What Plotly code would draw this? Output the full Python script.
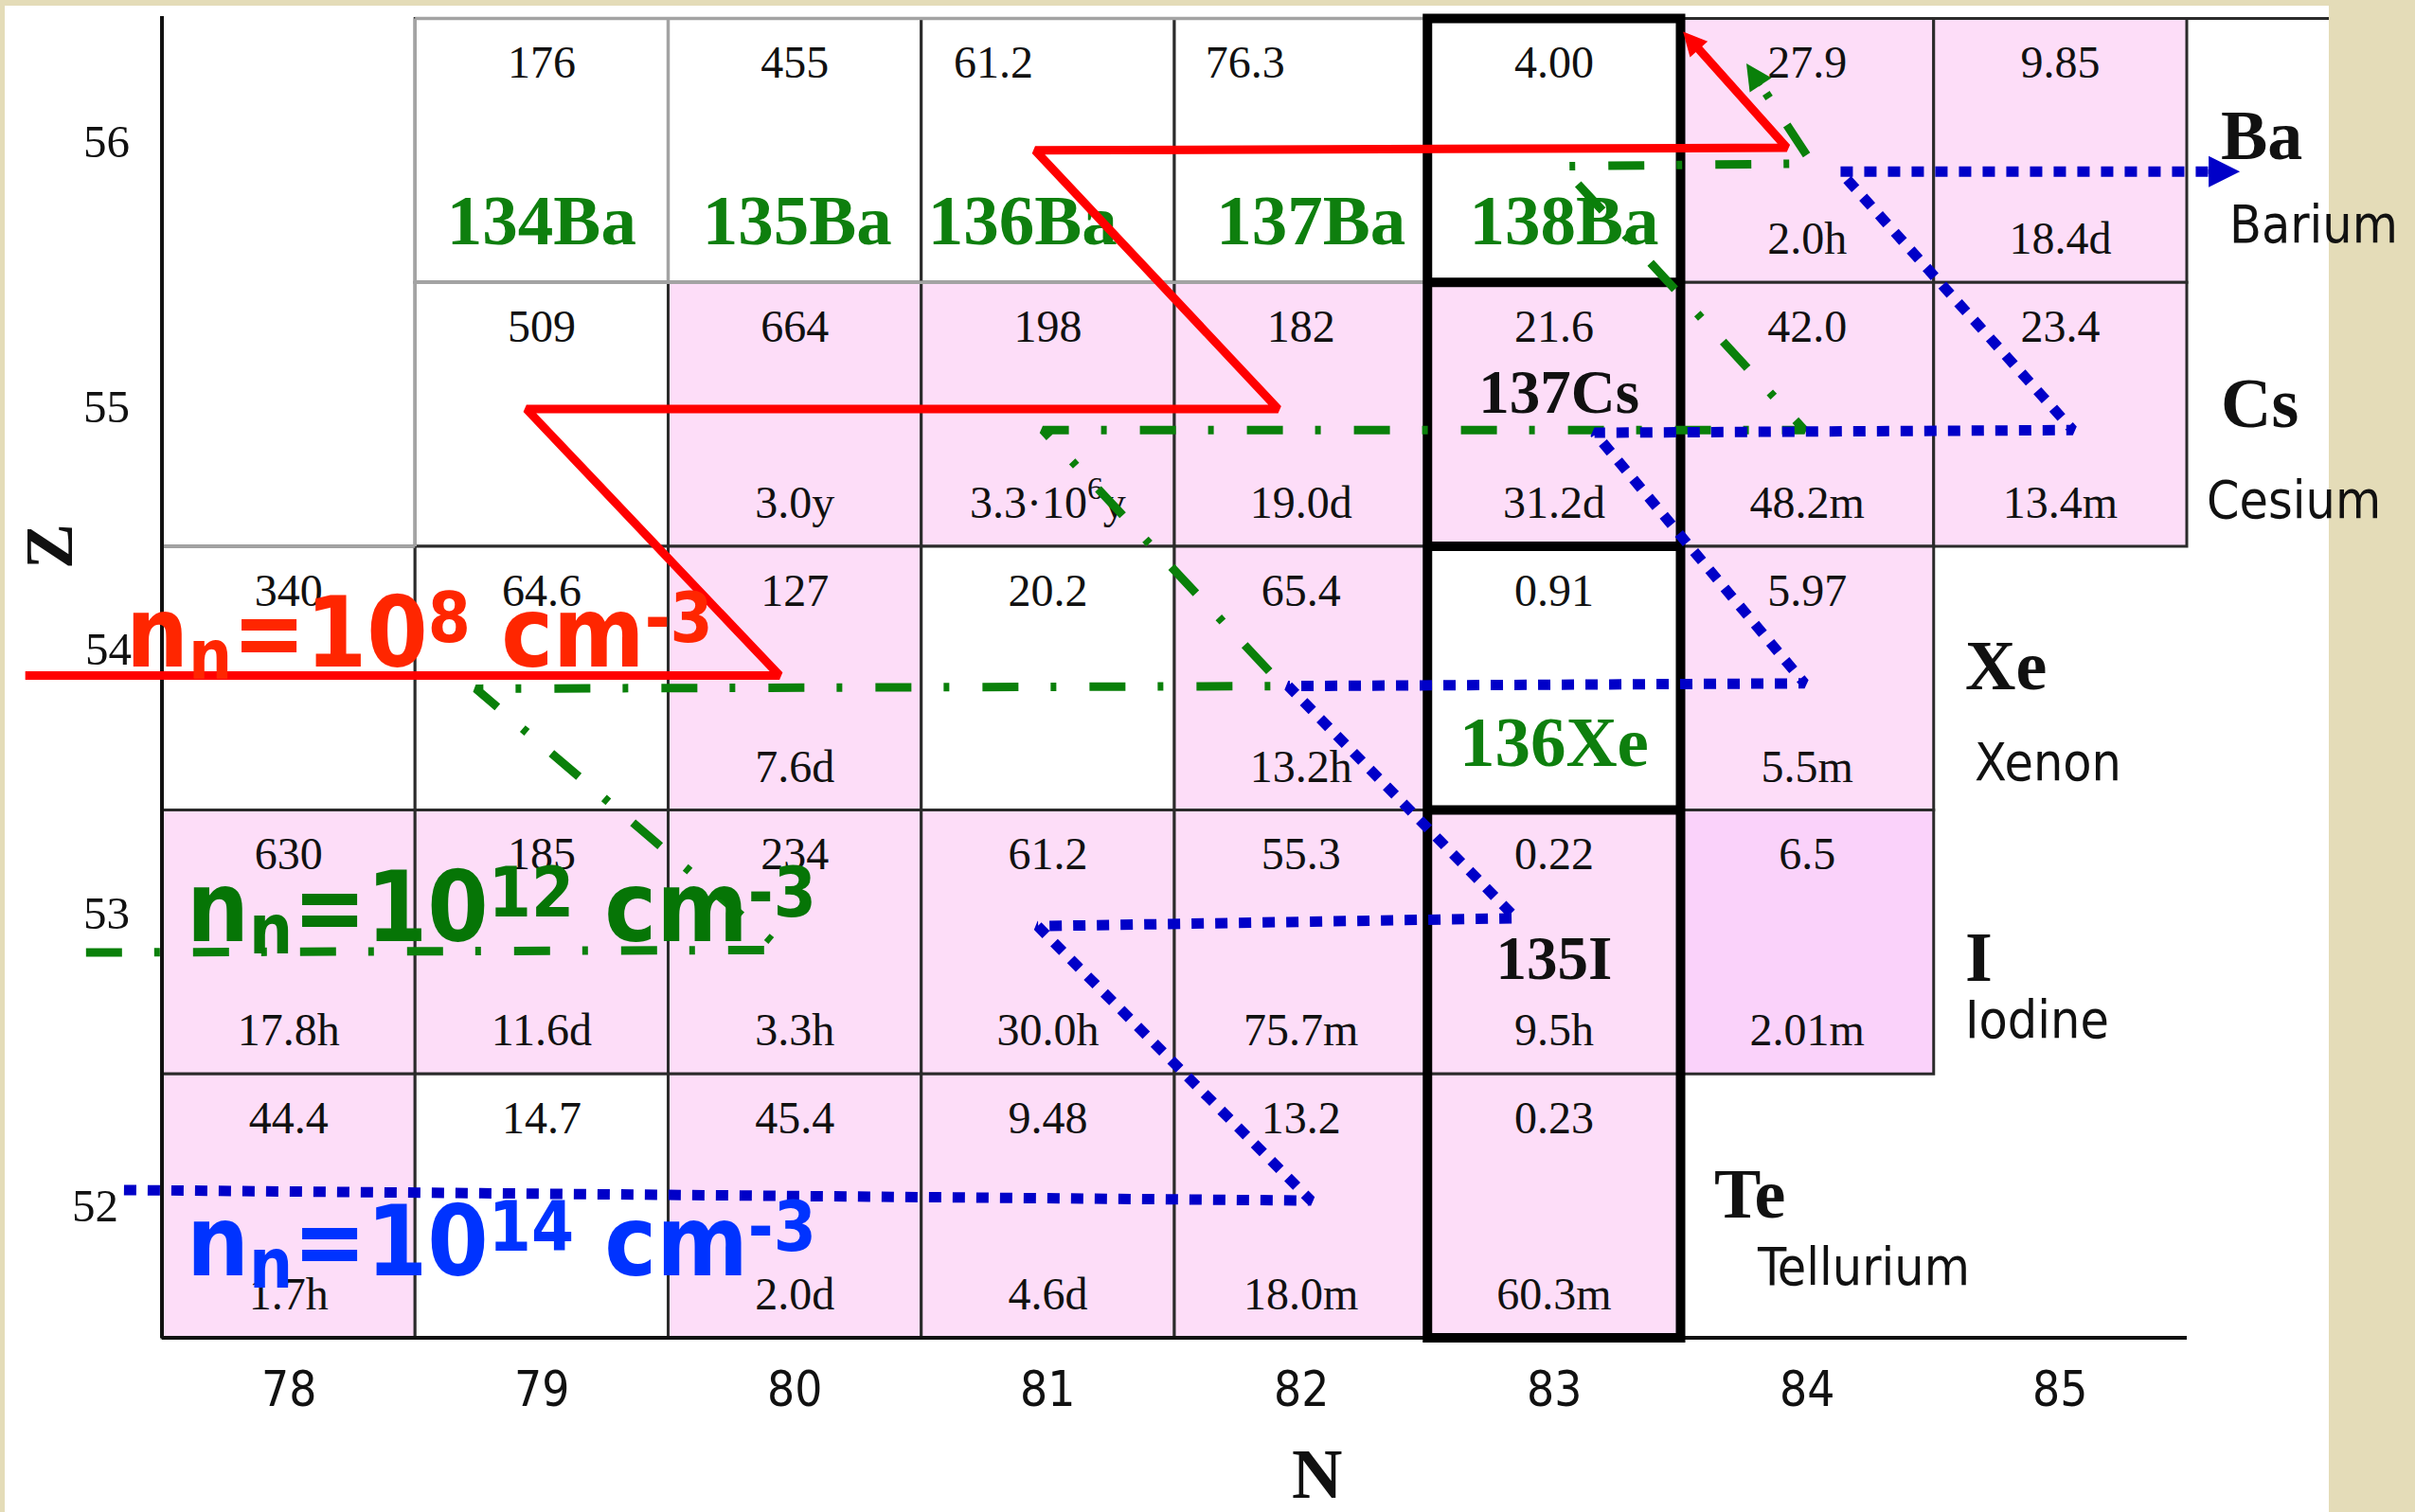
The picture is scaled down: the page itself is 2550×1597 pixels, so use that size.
import math
import plotly.graph_objects as go

# ---------------- data ----------------
N_TICKS = [78, 79, 80, 81, 82, 83, 84, 85]
Z_TICKS = [52, 53, 54, 55, 56]
ELEM_SYMBOLS = ["Te", "I", "Xe", "Cs", "Ba"]
ELEM_NAMES = ["Tellurium", "Iodine", "Xenon", "Cesium", "Barium"]

cell_N = [79, 80, 81, 82, 83, 84, 85,
          79, 80, 81, 82, 83, 84, 85,
          78, 79, 80, 81, 82, 83, 84,
          78, 79, 80, 81, 82, 83, 84,
          78, 79, 80, 81, 82, 83]
cell_Z = [56] * 7 + [55] * 7 + [54] * 7 + [53] * 7 + [52] * 6
cell_sigma = ["176", "455", "61.2", "76.3", "4.00", "27.9", "9.85",
              "509", "664", "198", "182", "21.6", "42.0", "23.4",
              "340", "64.6", "127", "20.2", "65.4", "0.91", "5.97",
              "630", "185", "234", "61.2", "55.3", "0.22", "6.5",
              "44.4", "14.7", "45.4", "9.48", "13.2", "0.23"]
cell_halflife = ["", "", "", "", "", "2.0h", "18.4d",
                 "", "3.0y", "3.3\u00b710<sup>6</sup>y", "19.0d", "31.2d", "48.2m", "13.4m",
                 "", "", "7.6d", "", "13.2h", "", "5.5m",
                 "17.8h", "11.6d", "3.3h", "30.0h", "75.7m", "9.5h", "2.01m",
                 "1.7h", "", "2.0d", "4.6d", "18.0m", "60.3m"]
cell_state = ["s", "s", "s", "s", "s", "r", "r",
              "s", "r", "r", "r", "r", "r", "r",
              "s", "s", "r", "s", "r", "s", "r",
              "r", "r", "r", "r", "r", "r", "r2",
              "r", "s", "r", "r", "r", "r"]

name_label = ["134Ba", "135Ba", "136Ba", "137Ba", "138Ba", "137Cs", "136Xe", "135I"]
name_N = [79, 80, 81, 82, 83, 83, 83, 83]
name_Z = [56, 56, 56, 56, 56, 55, 54, 53]
name_kind = ["g", "g", "g", "g", "g", "k", "g", "k"]

# neutron-capture paths (N, Z)
red_N = [76.96, 79.94, 78.94, 81.91, 80.95, 83.92, 83.51]
red_Z = [54.01, 54.01, 55.02, 55.02, 56.00, 56.01, 56.45]
green_N = [77.20, 79.95, 78.74, 81.93, 80.98, 83.99, 83.03, 84.02, 83.76]
green_Z = [52.96, 52.97, 53.96, 53.97, 54.94, 54.94, 55.94, 55.95, 56.33]
blue_N = [77.35, 82.04, 80.96, 82.85, 81.95, 83.99, 83.16, 85.05, 84.13, 85.71]
blue_Z = [52.06, 52.02, 53.06, 53.09, 53.97, 53.98, 54.93, 54.94, 55.92, 55.92]
flux_labels = ["n<sub>n</sub>=10<sup>8</sup> cm<sup>-3</sup>",
               "n<sub>n</sub>=10<sup>12</sup> cm<sup>-3</sup>",
               "n<sub>n</sub>=10<sup>14</sup> cm<sup>-3</sup>"]

# ---------------- geometry / style ----------------
W, H = 2550, 1597
X0, CW = 171.0, 267.25
Y0, CH = 19.5, 278.7


def n_of(px):
    return 77.5 + (px - X0) / CW


def z_of(py):
    return 56.5 - (py - Y0) / CH


def px_x(n):
    return X0 + (n - 77.5) * CW


def px_y(z):
    return Y0 + (56.5 - z) * CH


BEIGE = "#E4DCB8"
PINK = "#FDDDF8"
PINK2 = "#FAD2FA"
DARK = "#2b2b2b"
GRAY = "#a3a3a3"
SERIF = "Liberation Serif, Times New Roman, serif"
SANS = "DejaVu Sans Condensed, Liberation Sans, DejaVu Sans, sans-serif"
GREEN_TXT = "#0E7F0E"
fills = {"s": "white", "r": PINK, "r2": PINK2}

shapes = []
shapes.append(dict(type="rect", xref="paper", yref="paper", x0=5 / W, x1=2459 / W,
                   y0=0, y1=1 - 6 / H, fillcolor="white", line_width=0, layer="below"))
for n, z, st in zip(cell_N, cell_Z, cell_state):
    shapes.append(dict(type="rect", xref="x", yref="y", x0=n - 0.5, x1=n + 0.5,
                       y0=z - 0.5, y1=z + 0.5, fillcolor=fills[st],
                       line=dict(color=DARK, width=3), layer="below"))


def seg(x0, y0, x1, y1, color, width):
    shapes.append(dict(type="line", xref="x", yref="y", x0=x0, y0=y0, x1=x1, y1=y1,
                       line=dict(color=color, width=width), layer="below"))


# light grey borders in the upper-left part
seg(78.5, 56.5, 82.5, 56.5, GRAY, 3.5)
seg(78.5, 55.5, 82.5, 55.5, GRAY, 3.5)
seg(78.5, 54.5, 78.5, 56.5, GRAY, 3.5)
seg(79.5, 55.5, 79.5, 56.5, GRAY, 3.5)
seg(77.5, 54.5, 78.5, 54.5, GRAY, 3.5)
# top line extension
seg(85.5, 56.5, n_of(2459), 56.5, DARK, 3)
# axes
seg(77.5, 51.5, 77.5, z_of(17), "#111", 4)
seg(77.5, 51.5, 85.5, 51.5, "#111", 4)
# thick N=83 column
shapes.append(dict(type="rect", xref="x", yref="y", x0=82.5, x1=83.5, y0=51.5, y1=56.5,
                   line=dict(color="black", width=10), layer="below"))
for zz in (55.5, 54.5, 53.5):
    seg(82.5, zz, 83.5, zz, "black", 10)

fig = go.Figure()

# cell texts
sig_dx = {(81, 56): -0.215, (82, 56): -0.22}
fig.add_trace(go.Scatter(
    x=[n + sig_dx.get((n, z), 0) for n, z in zip(cell_N, cell_Z)],
    y=[z + 0.318 for z in cell_Z], text=cell_sigma, mode="text",
    textfont=dict(family=SERIF, size=48, color="#111"), hoverinfo="skip", showlegend=False))
hl = [(n, z, t) for n, z, t in zip(cell_N, cell_Z, cell_halflife) if t]
fig.add_trace(go.Scatter(
    x=[h[0] for h in hl], y=[h[1] - 0.349 for h in hl], text=[h[2] for h in hl], mode="text",
    textfont=dict(family=SERIF, size=48, color="#111"), hoverinfo="skip", showlegend=False))

name_dx = {"135Ba": 0.01, "136Ba": -0.10, "137Ba": 0.04, "138Ba": 0.04, "137Cs": 0.02}
name_dz = {"g56": -0.29, "137Cs": 0.065, "136Xe": -0.265, "135I": -0.08}
gx, gy, gt, kx, ky, kt = [], [], [], [], [], []
for lab, n, z, k in zip(name_label, name_N, name_Z, name_kind):
    dz = name_dz.get(lab, name_dz["g56"])
    xx = n + name_dx.get(lab, 0)
    if k == "g":
        gx.append(xx); gy.append(z + dz); gt.append(lab)
    else:
        kx.append(xx); ky.append(z + dz); kt.append(lab)
fig.add_trace(go.Scatter(x=gx, y=gy, text=gt, mode="text",
                         textfont=dict(family=SERIF, size=75, color=GREEN_TXT, weight="bold"),
                         hoverinfo="skip", showlegend=False))
fig.add_trace(go.Scatter(x=kx, y=ky, text=kt, mode="text",
                         textfont=dict(family=SERIF, size=65, color="#111", weight="bold"),
                         hoverinfo="skip", showlegend=False))

# paths
paths = [
    (red_N, red_Z, "#FF0000", 9, "solid", 5.0),
    (green_N, green_Z, "#0A800A", 9, "38px,34px,6px,35px", 5.5),
    (blue_N, blue_Z, "#0000C8", 11, "13px,12px", 6.6),
]
annotations = []
for xs, zs, col, w, dash, hscale in paths:
    tipx, tipy = px_x(xs[-1]), px_y(zs[-1])
    prx, pry = px_x(xs[-2]), px_y(zs[-2])
    L = math.hypot(prx - tipx, pry - tipy)
    ux, uy = (prx - tipx) / L, (pry - tipy) / L
    hlen = 5 * hscale
    endx, endy = tipx + ux * hlen * 0.8, tipy + uy * hlen * 0.8
    xd = list(xs[:-1]) + [n_of(endx)]
    yd = list(zs[:-1]) + [z_of(endy)]
    fig.add_trace(go.Scatter(x=xd, y=yd, mode="lines",
                             line=dict(color=col, width=w, dash=dash),
                             hoverinfo="skip", showlegend=False))
    tx, ty = tipx + ux * (hlen + 2), tipy + uy * (hlen + 2)
    annotations.append(dict(x=xs[-1], y=zs[-1], ax=n_of(tx), ay=z_of(ty), xref="x", yref="y",
                            axref="x", ayref="y", text="", showarrow=True, arrowhead=2,
                            arrowsize=hscale / 5.0, arrowwidth=5, arrowcolor=col, standoff=0))

# flux labels
flux_pos = [(131, 668, "#FF2600"), (195, 958, "#067506"), (195, 1311, "#0033FF")]
for lab, (lx, ly, col) in zip(flux_labels, flux_pos):
    annotations.append(dict(x=n_of(lx), y=z_of(ly), xref="x", yref="y", text=lab,
                            showarrow=False, xanchor="left", yanchor="middle",
                            font=dict(family="DejaVu Sans Condensed, DejaVu Sans, sans-serif",
                                      size=103, color=col, weight="bold")))

# tick labels
for n in N_TICKS:
    annotations.append(dict(x=n, y=z_of(1467), xref="x", yref="y", text=str(n),
                            showarrow=False, font=dict(family=SANS, size=51, color="#111")))
ytick_dz = {56: 0.035, 55: 0.03, 54: 0.11, 53: 0.11, 52: 0.0}
ytick_px = {56: 112, 55: 112, 54: 114, 53: 112, 52: 100}
for z in Z_TICKS:
    annotations.append(dict(x=n_of(ytick_px[z]), y=z + ytick_dz[z], xref="x", yref="y",
                            text=str(z), showarrow=False,
                            font=dict(family=SERIF, size=49, color="#111")))

# axis titles
annotations.append(dict(x=n_of(1390), y=z_of(1557), xref="x", yref="y", text="N",
                        showarrow=False, font=dict(family=SERIF, size=74, color="#111",
                                                   weight="bold")))
annotations.append(dict(x=n_of(52), y=z_of(577), xref="x", yref="y", text="Z", textangle=-90,
                        showarrow=False, font=dict(family=SERIF, size=72, color="#111",
                                                   weight="bold")))

# element labels (px positions: symbol left, symbol centre y, name left, name centre y)
elem_pos = {"Ba": (2343, 143, 2352, 237), "Cs": (2343, 426, 2328, 528),
            "Xe": (2073, 703, 2083, 805), "I": (2073, 1011, 2073, 1077),
            "Te": (1808, 1261, 1853, 1338)}
for sym, name in zip(ELEM_SYMBOLS, ELEM_NAMES):
    sx, sy, nx, ny = elem_pos[sym]
    annotations.append(dict(x=n_of(sx), y=z_of(sy), xref="x", yref="y", text=sym,
                            showarrow=False, xanchor="left", yanchor="middle",
                            font=dict(family=SERIF, size=74, color="#111", weight="bold")))
    annotations.append(dict(x=n_of(nx), y=z_of(ny), xref="x", yref="y", text=name,
                            showarrow=False, xanchor="left", yanchor="middle",
                            font=dict(family=SANS, size=55, color="#111")))

fig.update_layout(
    width=W, height=H, autosize=False,
    margin=dict(l=0, r=0, t=0, b=0, pad=0),
    paper_bgcolor=BEIGE, plot_bgcolor=BEIGE,
    xaxis=dict(range=[n_of(0), n_of(W)], visible=False, fixedrange=True),
    yaxis=dict(range=[z_of(H), z_of(0)], visible=False, fixedrange=True),
    shapes=shapes, annotations=annotations, showlegend=False,
)

post = """
document.body.style.margin='0px';
document.body.style.overflow='hidden';
document.querySelectorAll('.annotation-text').forEach(function(t){
  var fs = parseFloat(t.style.fontSize || t.getAttribute('font-size') || 0);
  if (fs < 90) return;
  t.querySelectorAll('tspan').forEach(function(s){
    var dy = s.getAttribute('dy');
    if (dy === '-0.6em') s.setAttribute('dy', '-0.36em');
    else if (dy === '0.42em') s.setAttribute('dy', '0.252em');
    else if (dy === '0.3em') s.setAttribute('dy', '0.18em');
    else if (dy === '-0.21em') s.setAttribute('dy', '-0.126em');
  });
});
"""
fig.write_html("out.html", config={"displayModeBar": False, "staticPlot": True},
               post_script=post)
